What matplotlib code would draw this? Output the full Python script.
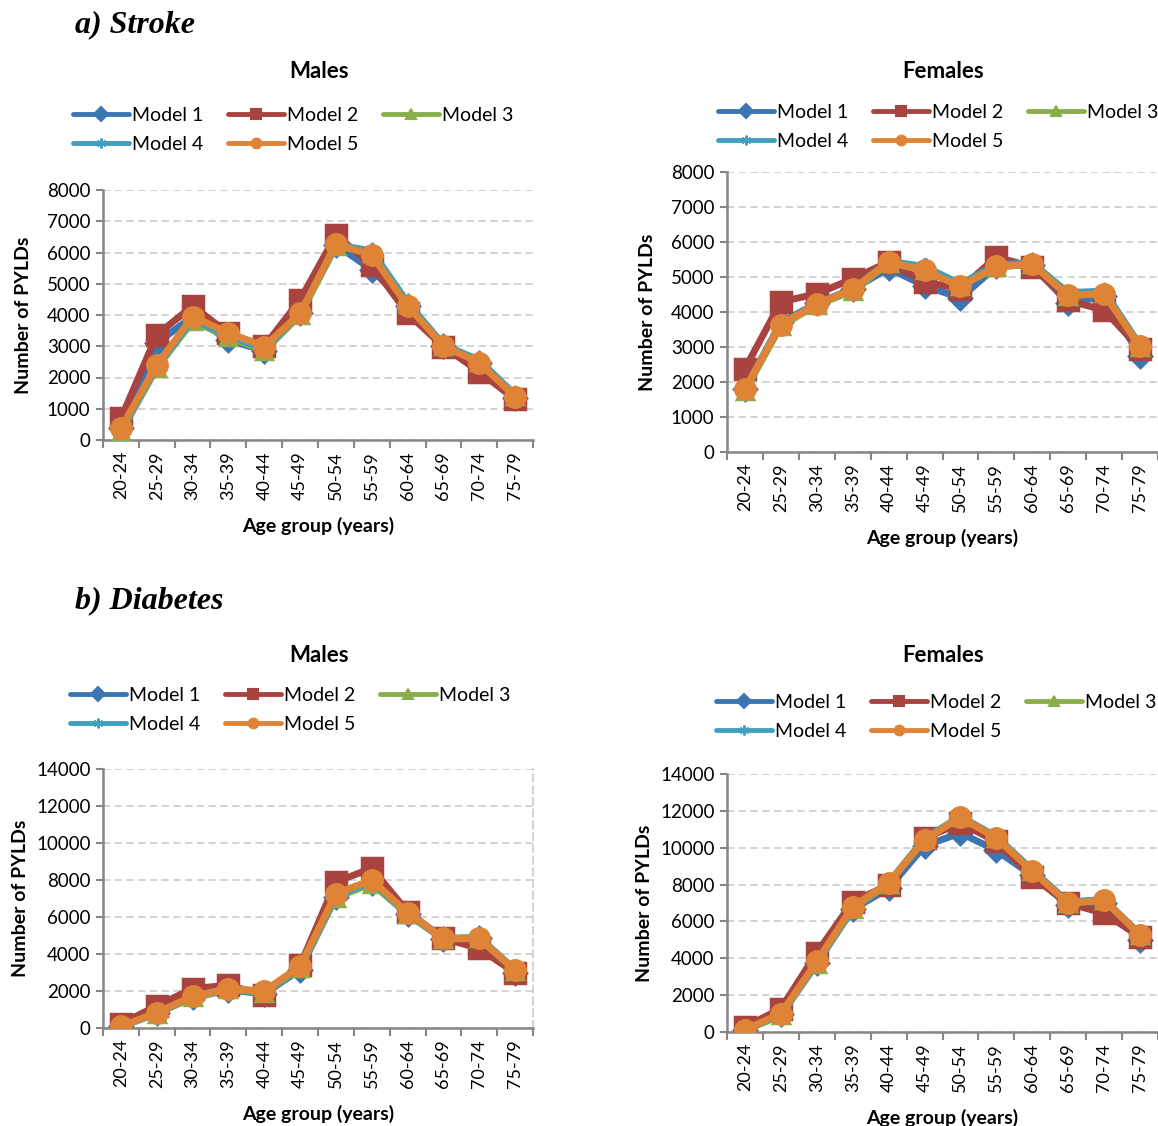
import numpy as np
import matplotlib
matplotlib.use("Agg")
import matplotlib.pyplot as plt
from matplotlib.lines import Line2D

plt.rcParams['font.family'] = ['Lato', 'DejaVu Sans']

ages = ["20-24", "25-29", "30-34", "35-39", "40-44", "45-49",
        "50-54", "55-59", "60-64", "65-69", "70-74", "75-79"]
models = ["Model 1", "Model 2", "Model 3", "Model 4", "Model 5"]

# stroke, males
stroke_m = [
    [380, 3100, 3950, 3200, 2850, 4050, 6250, 5450, 4300, 3000, 2450, 1350],
    [690, 3360, 4290, 3410, 3000, 4480, 6560, 5600, 4050, 2990, 2190, 1300],
    [250, 2300, 3800, 3300, 2850, 4000, 6200, 6000, 4350, 3000, 2500, 1400],
    [300, 2350, 3850, 3350, 2900, 4050, 6250, 6050, 4400, 3050, 2550, 1450],
    [380, 2400, 3950, 3430, 2990, 4050, 6270, 5920, 4290, 3020, 2470, 1390],
]
# stroke, females
stroke_f = [
    [1800, 3700, 4250, 4650, 5250, 4750, 4400, 5300, 5350, 4250, 4450, 2750],
    [2380, 4290, 4520, 4950, 5430, 4860, 4670, 5570, 5290, 4330, 4050, 2950],
    [1750, 3600, 4200, 4600, 5400, 5200, 4750, 5280, 5380, 4450, 4550, 3000],
    [1800, 3650, 4250, 4650, 5450, 5300, 4800, 5350, 5400, 4550, 4600, 3050],
    [1810, 3640, 4220, 4650, 5430, 5190, 4730, 5300, 5360, 4480, 4520, 3020],
]
# diabetes, males
diab_m = [
    [100, 800, 1650, 2050, 1850, 3150, 7100, 7850, 6150, 4800, 4850, 3000],
    [230, 1190, 2130, 2310, 1770, 3390, 7900, 8630, 6280, 4840, 4300, 2980],
    [80, 780, 1650, 2100, 1900, 3250, 7050, 7800, 6150, 4800, 4850, 3100],
    [80, 800, 1700, 2150, 1950, 3300, 7150, 7900, 6200, 4850, 4900, 3150],
    [90, 830, 1710, 2130, 2000, 3340, 7270, 8000, 6230, 4840, 4840, 3120],
]
# diabetes, females
diab_f = [
    [120, 950, 3750, 6650, 7800, 10100, 10800, 9850, 8500, 6900, 7000, 5000],
    [270, 1270, 4300, 7070, 7980, 10520, 11330, 10340, 8430, 6980, 6440, 5170],
    [100, 900, 3700, 6700, 8050, 10450, 11650, 10550, 8750, 7000, 7150, 5250],
    [110, 950, 3750, 6750, 8100, 10500, 11700, 10600, 8800, 7050, 7200, 5300],
    [130, 1000, 3840, 6800, 8100, 10430, 11660, 10520, 8740, 6980, 7160, 5290],
]

colors = ["#3C76B2", "#A9433F", "#8AAE4A", "#3FA0BE", "#DF8436"]
markers = ["D", "s", "^", (6, 2, 0), "o"]
msizes = [11, 14, 12, 12, 14]

W, H = 1158, 1126
fig = plt.figure(figsize=(W / 100, H / 100), dpi=100)


def px_axes(left, top, right, bottom):
    return fig.add_axes([left / W, 1 - bottom / H, (right - left) / W, (bottom - top) / H])


def draw(ax, data, ymax, ystep, dashed_border=False, ypad=11):
    x = np.arange(len(ages))
    for vals, c, m, ms in zip(data, colors, markers, msizes):
        ax.plot(x, vals, color=c, lw=5, marker=m, ms=ms, mec=c, mfc=c,
                mew=2.5, solid_joinstyle='round', solid_capstyle='round', zorder=3)
    ax.set_xlim(-0.5, len(ages) - 0.5)
    ax.set_ylim(0, ymax)
    ax.set_yticks(np.arange(0, ymax + 1, ystep))
    ax.set_xticks(x)
    ax.set_xticklabels(ages, rotation=90, fontsize=13)
    ax.set_xticks(np.arange(-0.5, len(ages)), minor=True)
    ax.tick_params(axis='x', which='major', length=0, pad=8)
    ax.tick_params(axis='x', which='minor', length=6, width=1.5, color='#868686')
    ax.tick_params(axis='y', length=5, width=1.5, color='#868686', labelsize=13.5, pad=4)
    ax.yaxis.grid(True, ls=(0, (4, 2.5)), color='#D0D0D0', lw=1.3)
    ax.set_axisbelow(True)
    for s in ['left', 'bottom']:
        ax.spines[s].set_color('#868686')
        ax.spines[s].set_linewidth(1.8)
    ax.spines['top'].set_visible(False)
    if dashed_border:
        ax.spines['right'].set_color('#D0D0D0')
        ax.spines['right'].set_linestyle((0, (4, 2.5)))
        ax.spines['right'].set_linewidth(1.3)
    else:
        ax.spines['right'].set_visible(False)
    ax.set_ylabel("Number of PYLDs", fontsize=14, fontweight='bold', labelpad=ypad)
    ax.set_xlabel("Age group (years)", fontsize=14, fontweight='bold', labelpad=12)


def add_legend(x0, y0):
    hs = [Line2D([], [], color=c, lw=3.5, marker=m, ms=7, mec=c, mfc=c, mew=1.5,
                 solid_capstyle='round')
          for c, m in zip(colors, markers)]
    order = [0, 3, 1, 4, 2]
    fig.legend([hs[i] for i in order], [models[i] for i in order],
               loc='upper left', bbox_to_anchor=(x0 / W, 1 - y0 / H), ncol=3,
               frameon=False, fontsize=14, handlelength=2.9, handletextpad=0.15,
               columnspacing=1.25, labelspacing=0.6, borderaxespad=0, borderpad=0)


panels = [
    (stroke_m, (103, 190, 533, 440), 8000, 1000, (319, 72), (73, 107), False, 11),
    (stroke_f, (727, 172, 1158, 452), 8000, 1000, (943, 72), (718, 104), False, 11),
    (diab_m, (103, 769, 533, 1028), 14000, 2000, (319, 656), (70, 687), True, 5),
    (diab_f, (727, 774, 1158, 1032), 14000, 2000, (943, 656), (716, 694), False, 5),
]
titles = ["Males", "Females", "Males", "Females"]

for (data, box, ymax, ystep, tpos, lpos, border, ypad), t in zip(panels, titles):
    ax = px_axes(*box)
    draw(ax, data, ymax, ystep, border, ypad)
    fig.text(tpos[0] / W, 1 - tpos[1] / H, t, ha='center', va='center',
             fontsize=16, fontweight='bold')
    add_legend(*lpos)

fig.text(75 / W, 1 - 25 / H, "a) Stroke", ha='left', va='center', fontsize=23,
         fontweight='bold', fontstyle='italic', family='Liberation Serif')
fig.text(75 / W, 1 - 601 / H, "b) Diabetes", ha='left', va='center', fontsize=23,
         fontweight='bold', fontstyle='italic', family='Liberation Serif')

fig.savefig("out.png", dpi=100)
